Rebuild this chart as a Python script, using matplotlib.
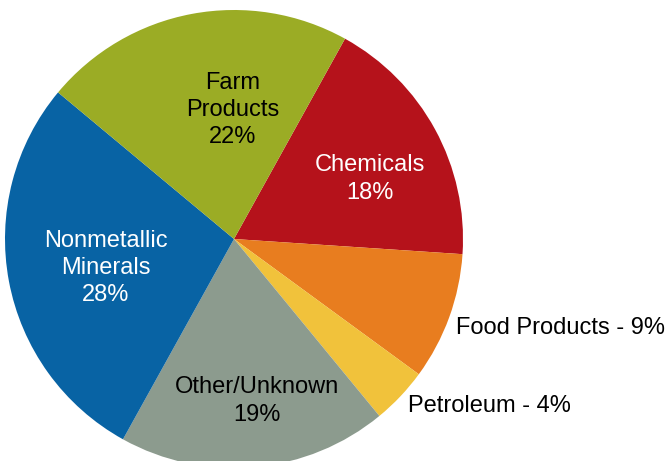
import matplotlib
matplotlib.use("Agg")
import matplotlib.pyplot as plt

categories = ["Chemicals", "Food Products", "Petroleum", "Other/Unknown",
              "Nonmetallic\nMinerals", "Farm\nProducts"]
values = [18, 9, 4, 19, 28, 22]
colors = ["#B5121B", "#E87D1F", "#F1C23B", "#8C9B8E", "#0863A4", "#9BAC25"]

plt.rcParams['font.family'] = ['Liberation Sans', 'DejaVu Sans']

W, H = 668, 461
fig = plt.figure(figsize=(W / 100, H / 100), dpi=100)
ax = fig.add_axes([0, 0, 1, 1])
ax.set_xlim(0, W)
ax.set_ylim(H, 0)
ax.set_aspect('equal')
ax.axis('off')

cx, cy, r = 234, 239, 229
wedges, _ = ax.pie(values, colors=colors, startangle=-61, counterclock=True,
                   center=(cx, cy), radius=r, frame=True,
                   wedgeprops=dict(linewidth=0))
ax.set_xlim(0, W)
ax.set_ylim(H, 0)
ax.axis('off')

fs = 17
inside = {
    "Chemicals": ((370, 179), "white"),
    "Nonmetallic\nMinerals": ((106, 268), "white"),
    "Farm\nProducts": ((233, 110), "black"),
    "Other/Unknown": ((257, 401), "black"),
}
for cat, v in zip(categories, values):
    if cat in inside:
        (x, y), c = inside[cat]
        ax.text(x, y, f"{cat}\n{v}%", ha='center', va='center', color=c,
                fontsize=fs, linespacing=1.32)

outside = {"Food Products": (456, 328), "Petroleum": (408, 406)}
for cat, v in zip(categories, values):
    if cat in outside:
        x, y = outside[cat]
        ax.text(x, y, f"{cat} - {v}%", ha='left', va='center', color='black',
                fontsize=fs)

fig.savefig("out.png", dpi=100)
